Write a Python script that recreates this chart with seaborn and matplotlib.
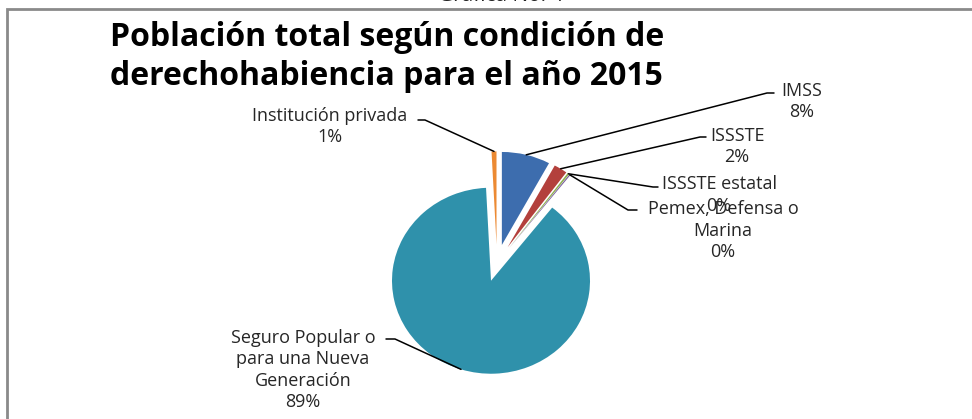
import numpy as np
import matplotlib
matplotlib.use("Agg")
import matplotlib.pyplot as plt
from matplotlib.lines import Line2D
from matplotlib.patches import Rectangle
import seaborn as sns

sns.set_theme(style="white")
plt.rcParams['font.family'] = ['Open Sans', 'DejaVu Sans']

# datos de la gráfica
categorias = ['IMSS', 'ISSSTE', 'ISSSTE estatal', 'Pemex, Defensa o\nMarina',
              'Seguro Popular o\npara una Nueva\nGeneración', 'Institución privada']
porcentajes = [7.9, 2.2, 0.3, 0.2, 88.6, 0.8]
colores = ['#3D6DAE', '#B3403C', '#8FB050', '#7A5E9E', '#2F91AB', '#EC8A33']
titulo = ['Población total según condición de', 'derechohabiencia para el año 2015']

W, H = 972, 419
fig = plt.figure(figsize=(W / 100, H / 100), dpi=100)
fig.patch.set_facecolor('white')


def fx(x):
    return x / W


def fy(y):
    return 1 - y / H


# marco gris cortado
fig.add_artist(Rectangle((fx(7), -0.1), 1.2, fy(9) + 0.1, transform=fig.transFigure,
                         fill=False, edgecolor='#8a8a8a', lw=2.0))
fig.text(fx(501), fy(-5), 'Gráfica No. 4', ha='center', va='center', fontsize=15, color='#222222')

# pastel (ligeramente aplanado como el 3D de Excel)
L = 1.4
rx, ry = 99, 93
cx, cy = 497, 263
ax = fig.add_axes([fx(cx - L * rx), fy(cy + L * ry), 2 * L * rx / W, 2 * L * ry / H])
explode = [0.2] * len(porcentajes)
wedges, _ = ax.pie(porcentajes, colors=colores, startangle=90, counterclock=False,
                   explode=explode, radius=1,
                   wedgeprops=dict(edgecolor='none'))
ax.set_xlim(-L, L)
ax.set_ylim(-L, L)
ax.set_aspect('auto')
ax.axis('off')

# etiquetas: (centro texto x, y), codo de la línea, extremo junto al texto
etiquetas = [
    ((802, 101.5), (767, 93), (774, 93)),
    ((737, 146.5), (700, 137), (706, 137)),
    ((719, 195), (653, 187), (658, 187)),
    ((723, 230.5), (628, 210), (637, 210)),
    ((303, 370), (395, 339), (386, 339)),
    ((330, 126.5), (425, 120), (418, 120)),
]

fig.canvas.draw()
for w, p, cat, (pos, codo, fin) in zip(wedges, porcentajes, categorias, etiquetas):
    ang = np.deg2rad((w.theta1 + w.theta2) / 2)
    c = w.center
    ancla = ax.transData.transform((c[0] + np.cos(ang), c[1] + np.sin(ang)))
    xs = [ancla[0] / fig.bbox.width, fx(codo[0]), fx(fin[0])]
    ys = [ancla[1] / fig.bbox.height, fy(codo[1]), fy(fin[1])]
    fig.add_artist(Line2D(xs, ys, transform=fig.transFigure, color='black', lw=1.1))
    fig.text(fx(pos[0]), fy(pos[1]), f'{cat}\n{p:.0f}%', ha='center', va='center',
             fontsize=13, color='#262626', linespacing=1.25, multialignment='center')

fig.text(fx(110), fy(46), titulo[0], ha='left', va='baseline', fontsize=23,
         fontweight='bold', color='black')
fig.text(fx(110), fy(85), titulo[1], ha='left', va='baseline', fontsize=23,
         fontweight='bold', color='black')

fig.savefig('out.png', dpi=100, facecolor='white')
